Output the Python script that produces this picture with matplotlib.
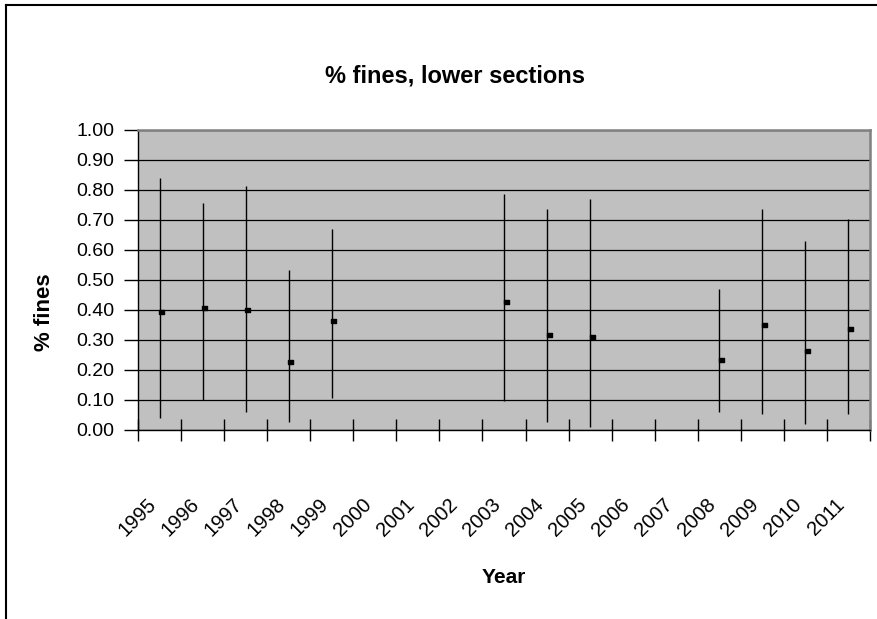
import matplotlib
matplotlib.use("Agg")
import matplotlib.pyplot as plt
import numpy as np
from matplotlib.lines import Line2D

# -----------------------------
# Data
# -----------------------------
years = ["1995", "1996", "1997", "1998", "1999", "2000", "2001", "2002", "2003",
         "2004", "2005", "2006", "2007", "2008", "2009", "2010", "2011"]
nan = np.nan
mean_vals = [0.393, 0.407, 0.400, 0.224, 0.362, nan, nan, nan, 0.426,
             0.316, 0.309, nan, nan, 0.232, 0.348, 0.263, 0.335]
high_vals = [0.839, 0.755, 0.813, 0.533, 0.669, nan, nan, nan, 0.786,
             0.735, 0.769, nan, nan, 0.468, 0.735, 0.630, 0.702]
low_vals = [0.039, 0.098, 0.057, 0.026, 0.104, nan, nan, nan, 0.096,
            0.026, 0.007, nan, nan, 0.057, 0.052, 0.018, 0.052]
y_ticks = [0.0, 0.1, 0.2, 0.3, 0.4, 0.5, 0.6, 0.7, 0.8, 0.9, 1.0]

plt.rcParams["font.family"] = ["Liberation Sans", "DejaVu Sans"]

W, H = 877, 619
fig = plt.figure(figsize=(W / 100, H / 100), dpi=100)
ax = fig.add_axes([138 / W, 1 - 429.5 / H, 732 / W, 299.5 / H])
ax.set_facecolor("#c0c0c0")

xs = np.arange(len(years)) + 0.5
mean = np.array(mean_vals)
high = np.array(high_vals)
low = np.array(low_vals)
ok = ~np.isnan(mean)

# high-low lines
ax.vlines(xs[ok], low[ok], high[ok], color="black", lw=1.0, zorder=3)

# small rectangular markers
rect = [(-1.6, -1.0), (1.6, -1.0), (1.6, 1.0), (-1.6, 1.0), (-1.6, -1.0)]
ax.plot(xs[ok] + 0.04, mean[ok], linestyle="none", marker=rect, markersize=3.6,
        color="black", zorder=4)

# axes setup
ax.set_xlim(0, len(years))
ax.set_ylim(0, 1)
ax.set_yticks(y_ticks)
ax.set_yticklabels([f"{v:.2f}" for v in y_ticks], fontsize=14)
ax.yaxis.grid(True, color="black", lw=0.9)
ax.set_axisbelow(True)

ax.set_xticks(np.arange(len(years) + 1))
ax.set_xticklabels([])
ax.set_xticks(xs, minor=True)
ax.set_xticklabels(years, minor=True, rotation=45, ha="right", va="top",
                   fontsize=14.5)
ax.tick_params(axis="x", which="minor", length=0, pad=47)
ax.tick_params(axis="x", which="major", direction="inout", length=16,
               width=1, color="black")
ax.tick_params(axis="y", direction="out", length=10, width=1, color="black",
               pad=7)

for side in ("left", "bottom"):
    ax.spines[side].set_color("black")
    ax.spines[side].set_linewidth(1.0)
for side in ("top", "right"):
    ax.spines[side].set_color("#808080")
    ax.spines[side].set_linewidth(1.8)

ax.set_xlabel("Year", fontsize=15, fontweight="bold")
ax.xaxis.set_label_coords(0.5, -0.462)
ax.set_ylabel("% fines", fontsize=16, fontweight="bold")
ax.yaxis.set_label_coords(-0.114, 0.392)

fig.text(455 / W, 1 - 76 / H, "% fines, lower sections", fontsize=17,
         fontweight="bold", ha="center", va="center")

# chart-area border (top and left only visible in reference)
fig.add_artist(Line2D([6 / W, 1.0], [1 - 5 / H, 1 - 5 / H],
                      color="black", lw=1.5, transform=fig.transFigure))
fig.add_artist(Line2D([6 / W, 6 / W], [0.0, 1 - 5 / H],
                      color="black", lw=1.5, transform=fig.transFigure))

fig.savefig("out.png", dpi=100, facecolor="white")
